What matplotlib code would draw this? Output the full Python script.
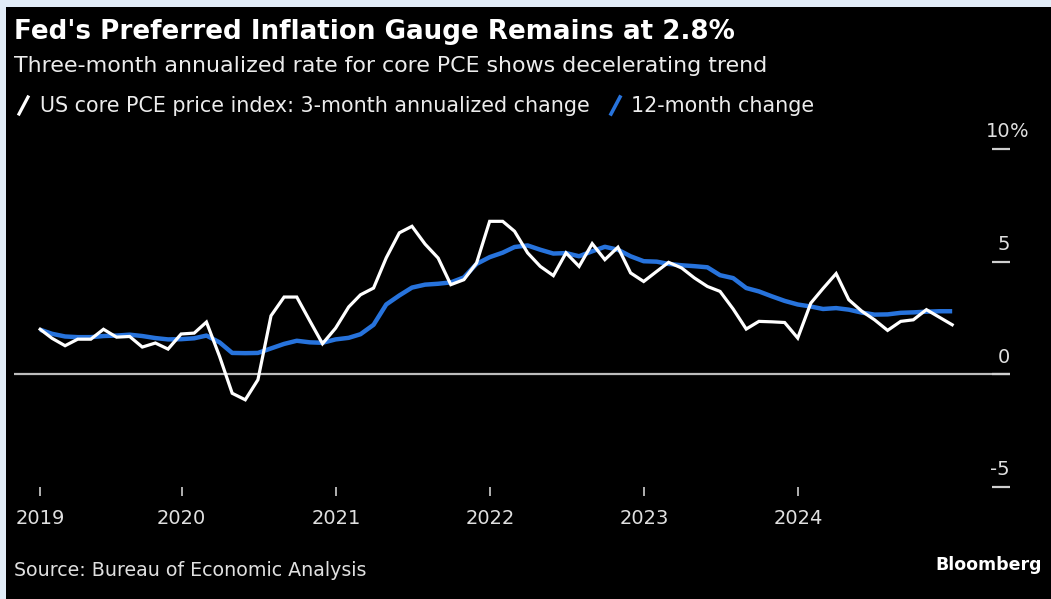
import matplotlib
matplotlib.use('Agg')
import matplotlib.pyplot as plt
from matplotlib.patches import Rectangle
from matplotlib.lines import Line2D
import numpy as np
import pandas as pd

# Data (monthly, Jan 2019 - Dec 2024) ------------------------------------------
three_month = [2.0, 1.6, 1.27, 1.56, 1.56, 2.0, 1.65, 1.68, 1.21, 1.39, 1.12, 1.79,
               1.83, 2.32, 0.8, -0.84, -1.13, -0.24, 2.6, 3.43, 3.43, 2.37, 1.36, 2.05,
               2.99, 3.53, 3.83, 5.17, 6.28, 6.57, 5.78, 5.16, 3.98, 4.2, 4.94, 6.79,
               6.79, 6.35, 5.39, 4.79, 4.38, 5.39, 4.79, 5.8, 5.09, 5.64, 4.5, 4.12,
               4.57, 4.97, 4.72, 4.28, 3.9, 3.68, 2.9, 2.01, 2.35, 2.33, 2.3, 1.61,
               3.16, 3.81, 4.47, 3.31, 2.8, 2.42, 1.95, 2.35, 2.42, 2.87, 2.54, 2.2]
twelve_month = [1.98, 1.8, 1.68, 1.65, 1.65, 1.7, 1.72, 1.76, 1.7, 1.61, 1.55, 1.56,
                1.6, 1.72, 1.42, 0.95, 0.94, 0.95, 1.15, 1.35, 1.49, 1.42, 1.4, 1.55,
                1.62, 1.78, 2.2, 3.1, 3.5, 3.85, 3.98, 4.02, 4.08, 4.3, 4.9, 5.2,
                5.4, 5.65, 5.72, 5.53, 5.36, 5.38, 5.24, 5.46, 5.66, 5.53, 5.24, 5.02,
                5.0, 4.9, 4.84, 4.8, 4.75, 4.4, 4.27, 3.83, 3.68, 3.46, 3.26, 3.1,
                3.01, 2.9, 2.94, 2.87, 2.74, 2.65, 2.66, 2.73, 2.75, 2.78, 2.8, 2.8]
dates = pd.date_range('2019-01-31', periods=len(three_month), freq='ME')

years = [2019, 2020, 2021, 2022, 2023, 2024]
y_ticks = [-5, 0, 5, 10]
y_labels = ['-5', '0', '5', '10']

title = "Fed's Preferred Inflation Gauge Remains at 2.8%"
subtitle = "Three-month annualized rate for core PCE shows decelerating trend"
label_3m = "US core PCE price index: 3-month annualized change"
label_12m = "12-month change"
source = "Source: Bureau of Economic Analysis"

# Style ------------------------------------------------------------------------
W, H = 1051, 599
BLUE = '#2773dc'
GREY = '#cfcfcf'
plt.rcParams['font.family'] = ['DejaVu Sans']

fig = plt.figure(figsize=(W/100., H/100.), dpi=100, facecolor='#e2edf8')
fig.patches.append(Rectangle((6./W, 0), 1, 1 - 7./H, transform=fig.transFigure,
                             facecolor='black', edgecolor='none', zorder=-1))

def fx(px): return px/float(W)
def fy(py): return 1 - py/float(H)

# Plot area --------------------------------------------------------------------
ax = fig.add_axes([fx(14), fy(487), fx(1010) - fx(14), fy(149) - fy(487)])
ax.set_facecolor('black')
for s in ax.spines.values():
    s.set_visible(False)

ax.axhline(0, color='#bdbdbd', lw=1.6, zorder=1)
ax.plot(dates, twelve_month, color=BLUE, lw=3.2, solid_capstyle='butt', zorder=2)
ax.plot(dates, three_month, color='white', lw=2.3, solid_joinstyle='miter', zorder=3)

ax.set_ylim(-5, 10)
ax.set_xlim(dates[0] - pd.Timedelta(days=62), dates[-1] + pd.Timedelta(days=137))

# x ticks: first one sits on the first point, the rest on Jan 1
xt = [dates[0]] + [pd.Timestamp('%d-01-01' % y) for y in years[1:]]
ax.set_xticks(xt)
ax.set_xticklabels([str(y) for y in years])
ax.tick_params(axis='x', direction='out', length=6.5, width=1.2, color=GREY,
               pad=9, labelsize=14, labelcolor='#e0e0e0')

# y ticks on the right, labels sitting above the short dashes
ax.set_yticks(y_ticks)
ax.yaxis.tick_right()
ax.tick_params(axis='y', direction='in', length=13, width=1.6, color=GREY,
               labelright=False, labelleft=False)
for v, lbl in zip(y_ticks, y_labels):
    ax.annotate(lbl, xy=(1, v), xycoords=ax.get_yaxis_transform(),
                xytext=(0, 8.5), textcoords='offset points', ha='right',
                va='baseline', fontsize=14, color='#e0e0e0')
ax.annotate('%', xy=(1, y_ticks[-1]), xycoords=ax.get_yaxis_transform(),
            xytext=(0, 8.5), textcoords='offset points', ha='left',
            va='baseline', fontsize=14, color='#e0e0e0')

# Titles, legend, footer -------------------------------------------------------
fig.text(fx(14), fy(39), title, fontsize=18.8, fontweight='bold', color='white',
         va='baseline')
fig.text(fx(14), fy(72), subtitle, fontsize=15.9, color='#ececec', va='baseline')

fig.add_artist(Line2D([fx(19), fx(28)], [fy(114), fy(97)], color='white', lw=2.3))
fig.text(fx(40), fy(112), label_3m, fontsize=14.9, color='#ececec', va='baseline')
fig.add_artist(Line2D([fx(611), fx(620)], [fy(114), fy(97)], color=BLUE, lw=2.6))
fig.text(fx(631), fy(112), label_12m, fontsize=14.9, color='#ececec', va='baseline')

fig.text(fx(14), fy(576), source, fontsize=13.7, color='#e0e0e0', va='baseline')
fig.text(fx(1042), fy(570), 'Bloomberg', fontsize=12.5, fontweight='bold',
         color='white', ha='right', va='baseline')

fig.savefig('out.png', dpi=100, facecolor=fig.get_facecolor())
